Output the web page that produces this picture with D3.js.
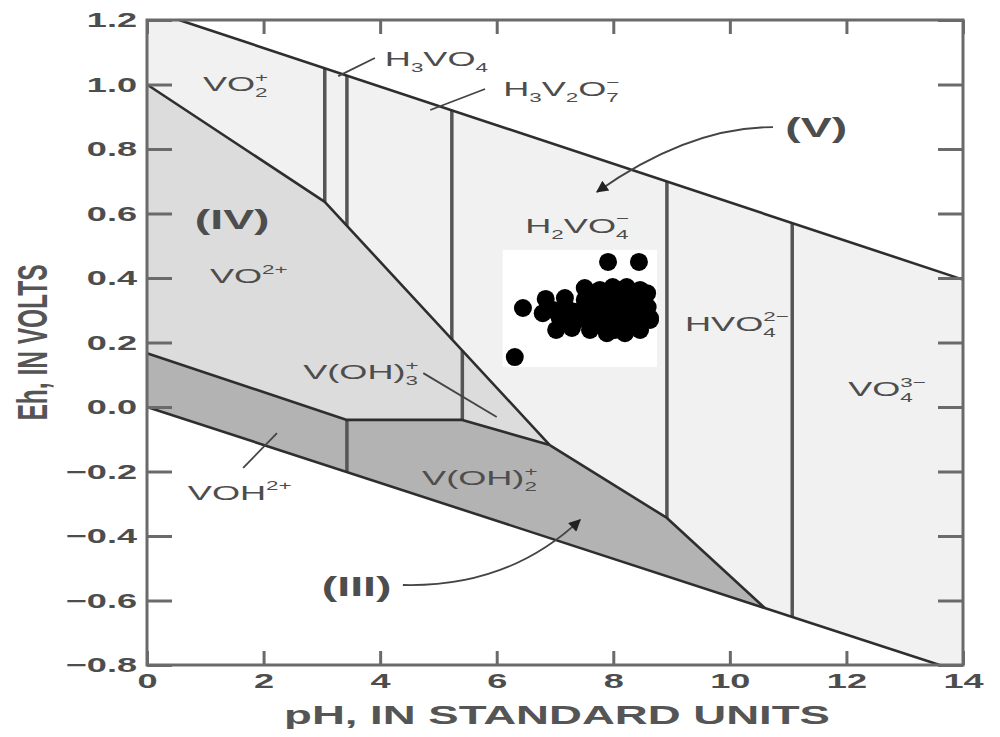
<!DOCTYPE html>
<html>
<head>
<meta charset="utf-8">
<script src="https://cdn.jsdelivr.net/npm/d3@7"></script>
<style>
  html, body { margin: 0; padding: 0; background: #fff; }
  svg { display: block; }
</style>
</head>
<body>
<svg id="chart" width="1000" height="737"></svg>
<script>
// Eh-pH stability diagram for dissolved vanadium, with sample points.

// ---- axes ----
const phTicks = [0, 2, 4, 6, 8, 10, 12, 14];
const ehTicks = [-0.8, -0.6, -0.4, -0.2, 0.0, 0.2, 0.4, 0.6, 0.8, 1.0, 1.2];
const ehTickLabels = ["\u22120.8", "\u22120.6", "\u22120.4", "\u22120.2", "0.0", "0.2", "0.4", "0.6", "0.8", "1.0", "1.2"];

// ---- boundaries, as [pH, Eh] vertices ----
const upperWater = [[0.55, 1.2], [14, 0.395]];
const lowerWater = [[0, 0.0], [13.6, -0.8]];
const boundaryIVtoV = [[0, 1.0], [3.05, 0.636], [6.91, -0.118]];
const boundaryIIItoIV = [[0, 0.167], [3.43, -0.04], [5.41, -0.04], [6.91, -0.118]];
const boundaryIIItoV = [[6.91, -0.118], [8.92, -0.344], [10.6, -0.6235]];

// species dividers: pH, and the two boundaries each one runs between
const dividerPH = [3.05, 3.43, 5.23, 8.92, 11.07, 5.41, 3.43];
const dividerTop = ["upper", "upper", "upper", "upper", "upper", "IVtoV", "IIItoIV"];
const dividerBottom = ["IVtoV", "IVtoV", "IVtoV", "IIItoV", "lower", "IIItoIV", "lower"];

// ---- sample measurements ----
const samplePH = [7.91, 8.44, 6.45, 6.31, 6.84, 7.17, 6.79, 7.02, 7.29, 7.51, 7.72, 7.99, 8.23, 8.58, 8.59,
                  8.46, 8.20, 7.89, 7.60, 7.48, 7.77, 8.06, 8.34, 7.38, 7.94, 8.23, 8.46, 7.08, 7.20,
                  7.63, 8.11, 8.63, 7.51, 7.51, 7.72, 7.72, 7.94, 7.94, 8.15, 8.15, 8.37, 8.37, 8.54,
                  7.77, 8.12, 8.46, 7.34, 7.60, 8.03, 8.63, 6.97, 7.17];
const sampleEh = [0.450, 0.450, 0.307, 0.155, 0.335, 0.338, 0.291, 0.239, 0.245, 0.369, 0.347, 0.372, 0.372, 0.353, 0.310,
                  0.239, 0.229, 0.229, 0.239, 0.295, 0.295, 0.307, 0.295, 0.270, 0.264, 0.270, 0.276, 0.276, 0.307,
                  0.316, 0.341, 0.270, 0.332, 0.276, 0.310, 0.264, 0.341, 0.301, 0.332, 0.295, 0.332, 0.254, 0.316,
                  0.363, 0.363, 0.363, 0.295, 0.270, 0.239, 0.276, 0.301, 0.276];

// ---- layout ----
const svg = d3.select("#chart");
const plot = { left: 147, right: 963, top: 20, bottom: 665 };
const SX = 1.72; // horizontal stretch of all lettering
const FONT = "Liberation Sans, Arial, sans-serif";
const x = d3.scaleLinear().domain([0, 14]).range([plot.left, plot.right]);
const y = d3.scaleLinear().domain([-0.8, 1.2]).range([plot.bottom, plot.top]);

const lines = { upper: upperWater, lower: lowerWater, IVtoV: boundaryIVtoV, IIItoIV: boundaryIIItoIV, IIItoV: boundaryIIItoV };
function ehAt(pts, ph) {
  for (let i = 0; i < pts.length - 1; i++) {
    const [a0, b0] = pts[i], [a1, b1] = pts[i + 1];
    if (ph >= a0 && ph <= a1) return b0 + (b1 - b0) * (ph - a0) / (a1 - a0);
  }
  const [a0, b0] = pts[0], [a1, b1] = pts[pts.length - 1];
  return b0 + (b1 - b0) * (ph - a0) / (a1 - a0);
}
const lineGen = d3.line().x(d => x(d[0])).y(d => y(d[1]));

// ---- filled fields ----
const waterField = [[0, 1.2], upperWater[0], upperWater[1], [14, -0.8], lowerWater[1], lowerWater[0]];
const fieldIV = boundaryIVtoV.concat(boundaryIIItoIV.slice().reverse());
const fieldIII = boundaryIIItoIV.concat(boundaryIIItoV.slice(1)).concat([lowerWater[0]]);

svg.append("path").attr("d", lineGen(waterField) + "Z").attr("fill", "#f1f1f1");
svg.append("path").attr("d", lineGen(fieldIV) + "Z").attr("fill", "#dcdcdc");
svg.append("path").attr("d", lineGen(fieldIII) + "Z").attr("fill", "#b3b3b3");

// ---- species dividers ----
dividerPH.forEach((ph, i) => {
  svg.append("line")
    .attr("x1", x(ph)).attr("x2", x(ph))
    .attr("y1", y(ehAt(lines[dividerTop[i]], ph)))
    .attr("y2", y(ehAt(lines[dividerBottom[i]], ph)))
    .attr("stroke", "#555").attr("stroke-width", 3.5);
});

// ---- boundary lines ----
[upperWater, lowerWater, boundaryIVtoV, boundaryIIItoIV, boundaryIIItoV].forEach(pts => {
  svg.append("path").attr("d", lineGen(pts)).attr("fill", "none")
    .attr("stroke", "#2e2e2e").attr("stroke-width", 2.6).attr("stroke-linejoin", "round");
});

// ---- axes and frame ----
const axisColor = "#6a6a6a";
const textColor = "#4d4d4d";
function styleAxis(g) {
  g.select(".domain").remove();
  g.selectAll(".tick line").attr("stroke", axisColor).attr("stroke-width", 3);
  g.selectAll(".tick text").attr("fill", textColor).attr("font-family", FONT);
}
const gLeft = svg.append("g").attr("transform", `translate(${plot.left},0)`)
  .call(d3.axisLeft(y).tickValues(ehTicks).tickSize(-25).tickPadding(10)
    .tickFormat((d, i) => ehTickLabels[i]));
styleAxis(gLeft);
gLeft.selectAll(".tick text").attr("font-size", 21).attr("font-weight", "bold")
  .attr("x", -10 / SX).attr("transform", `scale(${SX},1)`);

const gRight = svg.append("g").attr("transform", `translate(${plot.right},0)`)
  .call(d3.axisRight(y).tickValues(ehTicks).tickSize(-25).tickFormat(""));
styleAxis(gRight);

const gBottom = svg.append("g").attr("transform", `translate(0,${plot.bottom})`)
  .call(d3.axisBottom(x).tickValues(phTicks).tickSize(-14).tickPadding(8));
styleAxis(gBottom);
gBottom.selectAll(".tick text").attr("font-size", 21).attr("font-weight", "bold")
  .attr("transform", `scale(${SX},1)`);

const gTop = svg.append("g").attr("transform", `translate(0,${plot.top})`)
  .call(d3.axisTop(x).tickValues(phTicks).tickSize(-14).tickFormat(""));
styleAxis(gTop);

svg.append("rect")
  .attr("x", plot.left).attr("y", plot.top)
  .attr("width", plot.right - plot.left).attr("height", plot.bottom - plot.top)
  .attr("fill", "none").attr("stroke", axisColor).attr("stroke-width", 3);

// axis titles
svg.append("g").attr("transform", `translate(${(plot.left + plot.right) / 2 + 2},724) scale(${SX},1)`)
  .append("text").attr("text-anchor", "middle")
  .attr("font-family", FONT).attr("font-size", 26.5).attr("font-weight", "bold")
  .attr("fill", "#555").text("pH, IN STANDARD UNITS");
svg.append("g").attr("transform", `translate(32,${(plot.top + plot.bottom) / 2}) scale(${SX},1) rotate(-90)`)
  .append("text").attr("text-anchor", "middle").attr("dy", "0.36em")
  .attr("font-family", FONT).attr("font-size", 24.5).attr("font-weight", "bold")
  .attr("fill", "#555").text("Eh, IN VOLTS");

// ---- species labels ----
function richLabel(ph, eh, parts, size, bold) {
  const g = svg.append("g").attr("transform", `translate(${x(ph)},${y(eh)}) scale(${SX},1)`);
  const t = g.append("text").attr("font-family", FONT)
    .attr("font-size", size).attr("fill", textColor)
    .attr("font-weight", bold ? "bold" : "normal");
  let off = 0;
  const small = size * 0.62;
  parts.forEach(p => {
    if (p.t !== undefined) {
      t.append("tspan").attr("dy", -off).text(p.t); off = 0;
    } else {
      let back = 0;
      if (p.sub) {
        const s = t.append("tspan").attr("font-size", small).attr("dy", size * 0.3 - off).text(p.sub);
        off = size * 0.3;
        back = s.node().getComputedTextLength();
      }
      if (p.sup) {
        const s = t.append("tspan").attr("font-size", small).attr("dy", -size * 0.45 - off).text(p.sup);
        if (back) s.attr("dx", -back);
        off = -size * 0.45;
      }
    }
  });
}
function leader(p0, p1) {
  svg.append("line").attr("x1", x(p0[0])).attr("y1", y(p0[1])).attr("x2", x(p1[0])).attr("y2", y(p1[1]))
    .attr("stroke", "#444").attr("stroke-width", 1.8);
}
svg.append("defs").append("marker").attr("id", "head")
  .attr("viewBox", "0 0 10 10").attr("refX", 9).attr("refY", 5)
  .attr("markerWidth", 16).attr("markerHeight", 12).attr("markerUnits", "userSpaceOnUse")
  .attr("orient", "auto")
  .append("path").attr("d", "M0,0 L10,5 L0,10 Z").attr("fill", "#222");
function curvedArrow(p0, c, p1) {
  const path = d3.path();
  path.moveTo(x(p0[0]), y(p0[1]));
  path.quadraticCurveTo(x(c[0]), y(c[1]), x(p1[0]), y(p1[1]));
  svg.append("path").attr("d", path.toString()).attr("fill", "none")
    .attr("stroke", "#444").attr("stroke-width", 1.8)
    .attr("marker-end", "url(#head)");
}

const LS = 21;
richLabel(0.96, 0.980, [{ t: "VO" }, { sub: "2", sup: "+" }], LS);
richLabel(4.08, 1.057, [{ t: "H" }, { sub: "3" }, { t: "VO" }, { sub: "4" }], LS);
leader([3.28, 1.026], [3.91, 1.082]);
richLabel(6.11, 0.964, [{ t: "H" }, { sub: "3" }, { t: "V" }, { sub: "2" }, { t: "O" }, { sub: "7", sup: "\u2212" }], LS);
leader([4.86, 0.921], [5.80, 0.986]);
richLabel(10.95, 0.837, [{ t: "(V)" }], 27, true);
curvedArrow([10.74, 0.868], [9.3, 0.868], [7.72, 0.667]);
richLabel(6.49, 0.540, [{ t: "H" }, { sub: "2" }, { t: "VO" }, { sub: "4", sup: "\u2212" }], LS);
richLabel(0.82, 0.552, [{ t: "(IV)" }], 27, true);
richLabel(1.08, 0.384, [{ t: "VO" }, { sup: "2+" }], LS);
richLabel(2.68, 0.087, [{ t: "V(OH)" }, { sub: "3", sup: "+" }], LS);
leader([4.74, 0.105], [6.00, -0.031]);
richLabel(9.23, 0.236, [{ t: "HVO" }, { sub: "4", sup: "2\u2212" }], LS);
richLabel(12.03, 0.034, [{ t: "VO" }, { sub: "4", sup: "3\u2212" }], LS);
richLabel(0.70, -0.288, [{ t: "VOH" }, { sup: "2+" }], LS);
leader([1.65, -0.189], [2.23, -0.081]);
richLabel(4.72, -0.242, [{ t: "V(OH)" }, { sub: "2", sup: "+" }], LS);
richLabel(3.00, -0.586, [{ t: "(III)" }], 27, true);
curvedArrow([4.39, -0.552], [6.2, -0.56], [7.43, -0.350]);

// ---- sample points on a white backing ----
const r = 9;
const px = samplePH.map(v => x(v)), py = sampleEh.map(v => y(v));
const x0 = d3.min(px) - r - 3, x1 = d3.max(px) + r - 2;
const y0 = d3.min(py) - r - 3, y1 = d3.max(py) + r + 1;
svg.append("rect").attr("x", x0).attr("y", y0).attr("width", x1 - x0).attr("height", y1 - y0).attr("fill", "#fff");
svg.append("g").selectAll("circle").data(samplePH).join("circle")
  .attr("cx", (d, i) => x(samplePH[i])).attr("cy", (d, i) => y(sampleEh[i]))
  .attr("r", r).attr("fill", "#000");
</script>
</body>
</html>
